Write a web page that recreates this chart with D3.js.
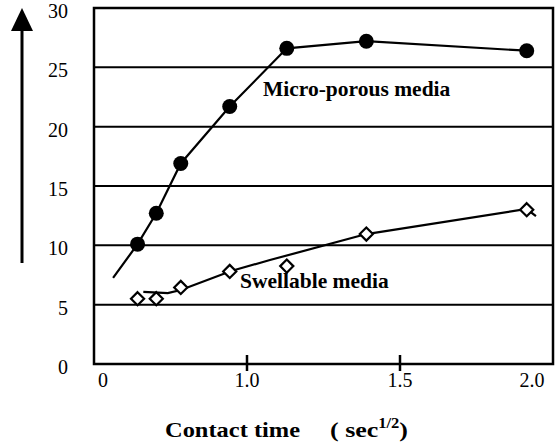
<!DOCTYPE html>
<html>
<head>
<meta charset="utf-8">
<script src="https://cdn.jsdelivr.net/npm/d3@7"></script>
<style>
  html, body { margin: 0; padding: 0; background: #fff; }
  svg { display: block; }
</style>
</head>
<body>
<svg id="chart" width="556" height="445" font-family="'Liberation Serif', 'Times New Roman', Times, serif"></svg>
<script>
// ---- data ----
const xTickValues = [0, 1.0, 1.5, 2.0];
const xTickLabels = ["0", "1.0", "1.5", "2.0"];
const xTickMarks = [1.0, 1.5];
const yTickValues = [0, 5, 10, 15, 20, 25, 30];
const yTickLabels = ["0", "5", "10", "15", "20", "25", "30"];
const yGridValues = [5, 10, 15, 20, 25];

const microX = [0.24, 0.37, 0.54, 0.88, 1.13, 1.39, 1.98];
const microY = [10.1, 12.7, 16.9, 21.7, 26.6, 27.2, 26.4];
const microLineX = [0.07, 0.24, 0.37, 0.54, 0.88, 1.13, 1.39, 1.98];
const microLineY = [7.25, 10.1, 12.7, 16.9, 21.7, 26.6, 27.2, 26.4];

const swellX = [0.24, 0.37, 0.54, 0.88, 1.13, 1.39, 1.98];
const swellY = [5.5, 5.5, 6.45, 7.8, 8.25, 10.95, 13.0];
const swellLineX = [0.28, 0.45, 0.54, 0.89, 1.075, 1.39, 1.98, 2.015];
const swellLineY = [6.07, 5.98, 6.24, 7.84, 8.76, 10.95, 13.06, 12.47];

const seriesLabels = ["Micro-porous media", "Swellable media"];
const xTitle = "Contact time";

// ---- layout ----
const FONT = "'Liberation Serif', 'Times New Roman', Times, serif";
const svg = d3.select("#chart");
const box = { left: 94, right: 553, top: 8, bottom: 364 };

const x = d3.scaleLinear().domain(xTickValues).range([103, 247, 400, 532]);
const y = d3.scaleLinear().domain([0, 30]).range([box.bottom, box.top]);

// gridlines
svg.append("g").selectAll("line").data(yGridValues).join("line")
  .attr("x1", box.left).attr("x2", box.right)
  .attr("y1", d => y(d)).attr("y2", d => y(d))
  .attr("stroke", "#000").attr("stroke-width", 2);

// plot frame
svg.append("rect")
  .attr("x", box.left).attr("y", box.top)
  .attr("width", box.right - box.left).attr("height", box.bottom - box.top)
  .attr("fill", "none").attr("stroke", "#000").attr("stroke-width", 2.5);

// x tick marks
svg.append("g").selectAll("line").data(xTickMarks).join("line")
  .attr("x1", d => x(d)).attr("x2", d => x(d))
  .attr("y1", box.bottom - 9).attr("y2", box.bottom + 7)
  .attr("stroke", "#000").attr("stroke-width", 2.5);

// x tick labels
svg.append("g").selectAll("text").data(xTickValues).join("text")
  .attr("x", d => x(d)).attr("y", 387)
  .attr("font-family", FONT)
  .attr("text-anchor", "middle").attr("font-size", 20)
  .text((d, i) => xTickLabels[i]);

// y tick labels
svg.append("g").selectAll("text").data(yTickValues).join("text")
  .attr("x", 68).attr("y", d => y(d) + 10)
  .attr("font-family", FONT)
  .attr("text-anchor", "end").attr("font-size", 20)
  .text((d, i) => yTickLabels[i]);

// lines
const line = d3.line().x(d => x(d[0])).y(d => y(d[1]));
svg.append("path")
  .datum(microLineX.map((v, i) => [v, microLineY[i]]))
  .attr("d", line).attr("fill", "none").attr("stroke", "#000").attr("stroke-width", 2.2);
svg.append("path")
  .datum(swellLineX.map((v, i) => [v, swellLineY[i]]))
  .attr("d", line).attr("fill", "none").attr("stroke", "#000").attr("stroke-width", 2.2);

// micro markers
svg.append("g").selectAll("circle").data(microX.map((v, i) => [v, microY[i]])).join("circle")
  .attr("cx", d => x(d[0])).attr("cy", d => y(d[1])).attr("r", 7.5).attr("fill", "#000");

// swell markers (diamonds)
const diamond = d3.symbol().type(d3.symbolDiamond2).size(110);
svg.append("g").selectAll("path").data(swellX.map((v, i) => [v, swellY[i]])).join("path")
  .attr("transform", d => `translate(${x(d[0])},${y(d[1])})`)
  .attr("d", diamond).attr("fill", "#fff").attr("stroke", "#000").attr("stroke-width", 2.2);

// series labels
svg.append("text").attr("x", 263).attr("y", 96).attr("font-family", FONT)
  .attr("font-size", 21.5).attr("font-weight", "bold").text(seriesLabels[0]);
svg.append("text").attr("x", 240).attr("y", 288).attr("font-family", FONT)
  .attr("font-size", 21.5).attr("font-weight", "bold").text(seriesLabels[1]);

// y arrow
svg.append("line").attr("x1", 22).attr("x2", 22).attr("y1", 263).attr("y2", 28)
  .attr("stroke", "#000").attr("stroke-width", 3);
svg.append("path").attr("d", "M22,8 L33,31 L11,31 Z").attr("fill", "#000");

// x title
svg.append("text").attr("x", 165).attr("y", 437).attr("font-family", FONT)
  .attr("font-size", 22).attr("font-weight", "bold")
  .attr("textLength", 135).attr("lengthAdjust", "spacingAndGlyphs").text(xTitle);
const unit = svg.append("text").attr("x", 330).attr("y", 437).attr("font-family", FONT)
  .attr("font-size", 22).attr("font-weight", "bold")
  .attr("textLength", 78).attr("lengthAdjust", "spacingAndGlyphs");
unit.append("tspan").text("( sec");
unit.append("tspan").attr("dy", -9).attr("font-size", 14).text("1/2");
unit.append("tspan").attr("dy", 9).text(")");
</script>
</body>
</html>
